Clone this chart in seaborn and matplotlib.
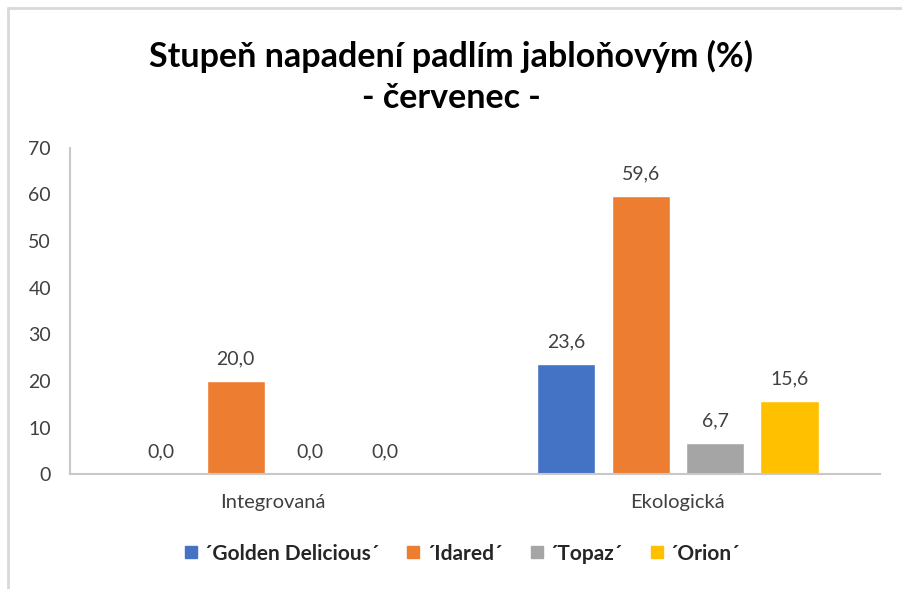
import pandas as pd
import seaborn as sns
import matplotlib.pyplot as plt
from matplotlib.lines import Line2D

systems = ["Integrovaná", "Ekologická"]
varieties = ["´Golden Delicious´", "´Idared´", "´Topaz´", "´Orion´"]
golden = [0.0, 23.6]
idared = [20.0, 59.6]
topaz = [0.0, 6.7]
orion = [0.0, 15.6]
colors = ["#4472C4", "#ED7D31", "#A5A5A5", "#FFC000"]

rows = []
for var, vals in zip(varieties, [golden, idared, topaz, orion]):
    for sys_name, v in zip(systems, vals):
        rows.append({"system": sys_name, "variety": var, "value": v})
df = pd.DataFrame(rows)

sns.set_style("white")
plt.rcParams['font.family'] = ['Lato', 'DejaVu Sans']

fig = plt.figure(figsize=(9.02, 5.89), dpi=100)
ax = fig.add_axes([0.078, 0.195, 0.898, 0.554])

sns.barplot(data=df, x="system", y="value", hue="variety", order=systems,
            hue_order=varieties, palette=colors, width=0.735, gap=0.22,
            saturation=1, legend=False, ax=ax)

for cont in ax.containers:
    ax.bar_label(cont, labels=[f"{v:.1f}".replace(".", ",") for v in cont.datavalues],
                 padding=10, fontsize=14, color="#404040")

ax.set_ylim(0, 70)
ax.set_yticks(range(0, 71, 10))
ax.set_xlim(-0.5, 1.5)
ax.set_xlabel("")
ax.set_ylabel("")
ax.tick_params(axis="y", length=0, pad=14, labelsize=14, labelcolor="#404040")
ax.tick_params(axis="x", length=0, pad=14, labelsize=14.5, labelcolor="#404040")
for s in ["top", "right"]:
    ax.spines[s].set_visible(False)
for s in ["left", "bottom"]:
    ax.spines[s].set_color("#C8C8C8")
    ax.spines[s].set_linewidth(1.5)

fig.text(0.5, 0.905, "Stupeň napadení padlím jabloňovým (%)", ha="center", va="center",
         fontsize=24.5, fontweight="bold", color="black")
fig.text(0.5, 0.833, "- červenec -", ha="center", va="center",
         fontsize=24.5, fontweight="bold", color="black")

handles = [Line2D([0], [0], marker="s", linestyle="", markersize=9,
                  markerfacecolor=c, markeredgecolor=c) for c in colors]
fig.legend(handles, varieties, loc="center", bbox_to_anchor=(0.512, 0.06), ncol=4,
           frameon=False, prop={"weight": "bold", "size": 15}, handlelength=0.7,
           handletextpad=0.25, columnspacing=1.3)

# light frame lines of the chart area
fig.add_artist(Line2D([0.009, 0.009], [0, 0.986], color="#D9D9D9", lw=2, transform=fig.transFigure))
fig.add_artist(Line2D([0.009, 1], [0.986, 0.986], color="#D9D9D9", lw=2, transform=fig.transFigure))

fig.savefig("out.png", dpi=100)
